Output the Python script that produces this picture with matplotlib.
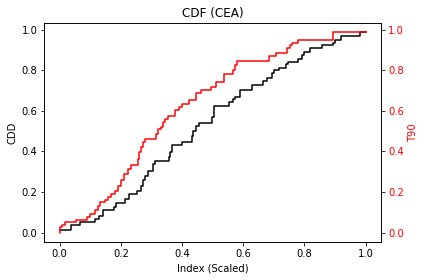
import matplotlib
matplotlib.use("Agg")
import matplotlib.pyplot as plt

# Step breakpoints (x = scaled index, y = cumulative value), 'post' steps
cdd_x = [0.0, 0.037, 0.066, 0.117, 0.128, 0.142, 0.178, 0.185, 0.215, 0.226,
         0.254, 0.265, 0.272, 0.280, 0.288, 0.305, 0.312, 0.356, 0.361, 0.368,
         0.399, 0.432, 0.437, 0.446, 0.455, 0.498, 0.505, 0.554, 0.565, 0.574,
         0.589, 0.627, 0.663, 0.679, 0.693, 0.700, 0.717, 0.739, 0.746, 0.780,
         0.791, 0.800, 0.817, 0.856, 0.894, 0.901, 0.918, 0.980, 1.0]
cdd_y = [0.013, 0.035, 0.051, 0.068, 0.084, 0.112, 0.128, 0.145, 0.166, 0.191,
         0.207, 0.232, 0.257, 0.281, 0.302, 0.339, 0.352, 0.372, 0.396, 0.433,
         0.445, 0.474, 0.503, 0.528, 0.541, 0.569, 0.622, 0.645, 0.661, 0.669,
         0.702, 0.730, 0.747, 0.763, 0.789, 0.801, 0.812, 0.829, 0.842, 0.858,
         0.875, 0.891, 0.908, 0.924, 0.937, 0.952, 0.970, 0.987, 0.987]

t90_x = [0.0, 0.0, 0.007, 0.017, 0.052, 0.088, 0.099, 0.115, 0.124, 0.131,
         0.147, 0.158, 0.169, 0.180, 0.191, 0.202, 0.212, 0.223, 0.234, 0.256,
         0.258, 0.265, 0.272, 0.278, 0.316, 0.323, 0.332, 0.337, 0.343, 0.353,
         0.378, 0.391, 0.400, 0.424, 0.446, 0.462, 0.495, 0.511, 0.538, 0.565,
         0.574, 0.578, 0.685, 0.708, 0.742, 0.752, 0.760, 0.780, 0.893, 1.0]
t90_y = [0.0, 0.026, 0.035, 0.051, 0.064, 0.079, 0.092, 0.109, 0.133, 0.150,
         0.161, 0.174, 0.191, 0.207, 0.232, 0.257, 0.290, 0.314, 0.331, 0.364,
         0.396, 0.421, 0.446, 0.459, 0.487, 0.512, 0.523, 0.544, 0.562, 0.574,
         0.603, 0.620, 0.636, 0.653, 0.686, 0.702, 0.719, 0.744, 0.780, 0.801,
         0.826, 0.845, 0.870, 0.887, 0.911, 0.924, 0.936, 0.952, 0.988, 0.988]

plt.rcParams['font.size'] = 10
fig = plt.figure(figsize=(424 / 72, 280 / 72), dpi=72)
ax = fig.add_axes([44.3 / 424, 1 - 242.3 / 280, (381 - 44.3) / 424, (242.3 - 22.7) / 280])
ax.step(cdd_x, cdd_y, where='post', color='black', linewidth=1.5)
ax.set_xlim(-0.05, 1.05)
ax.set_ylim(-0.048, 1.035)
ax.set_xlabel('Index (Scaled)')
ax.set_ylabel('CDD')
ax.set_title('CDF (CEA)')
ax.set_xticks([0.0, 0.2, 0.4, 0.6, 0.8, 1.0])
ax.set_yticks([0.0, 0.2, 0.4, 0.6, 0.8, 1.0])

ax2 = ax.twinx()
ax2.step(t90_x, t90_y, where='post', color='red', linewidth=1.5)
ax2.set_ylim(-0.048, 1.035)
ax2.set_yticks([0.0, 0.2, 0.4, 0.6, 0.8, 1.0])
ax2.set_ylabel('T90', color='red')
ax2.tick_params(axis='y', labelcolor='red')

fig.savefig('out.png', dpi=72)
